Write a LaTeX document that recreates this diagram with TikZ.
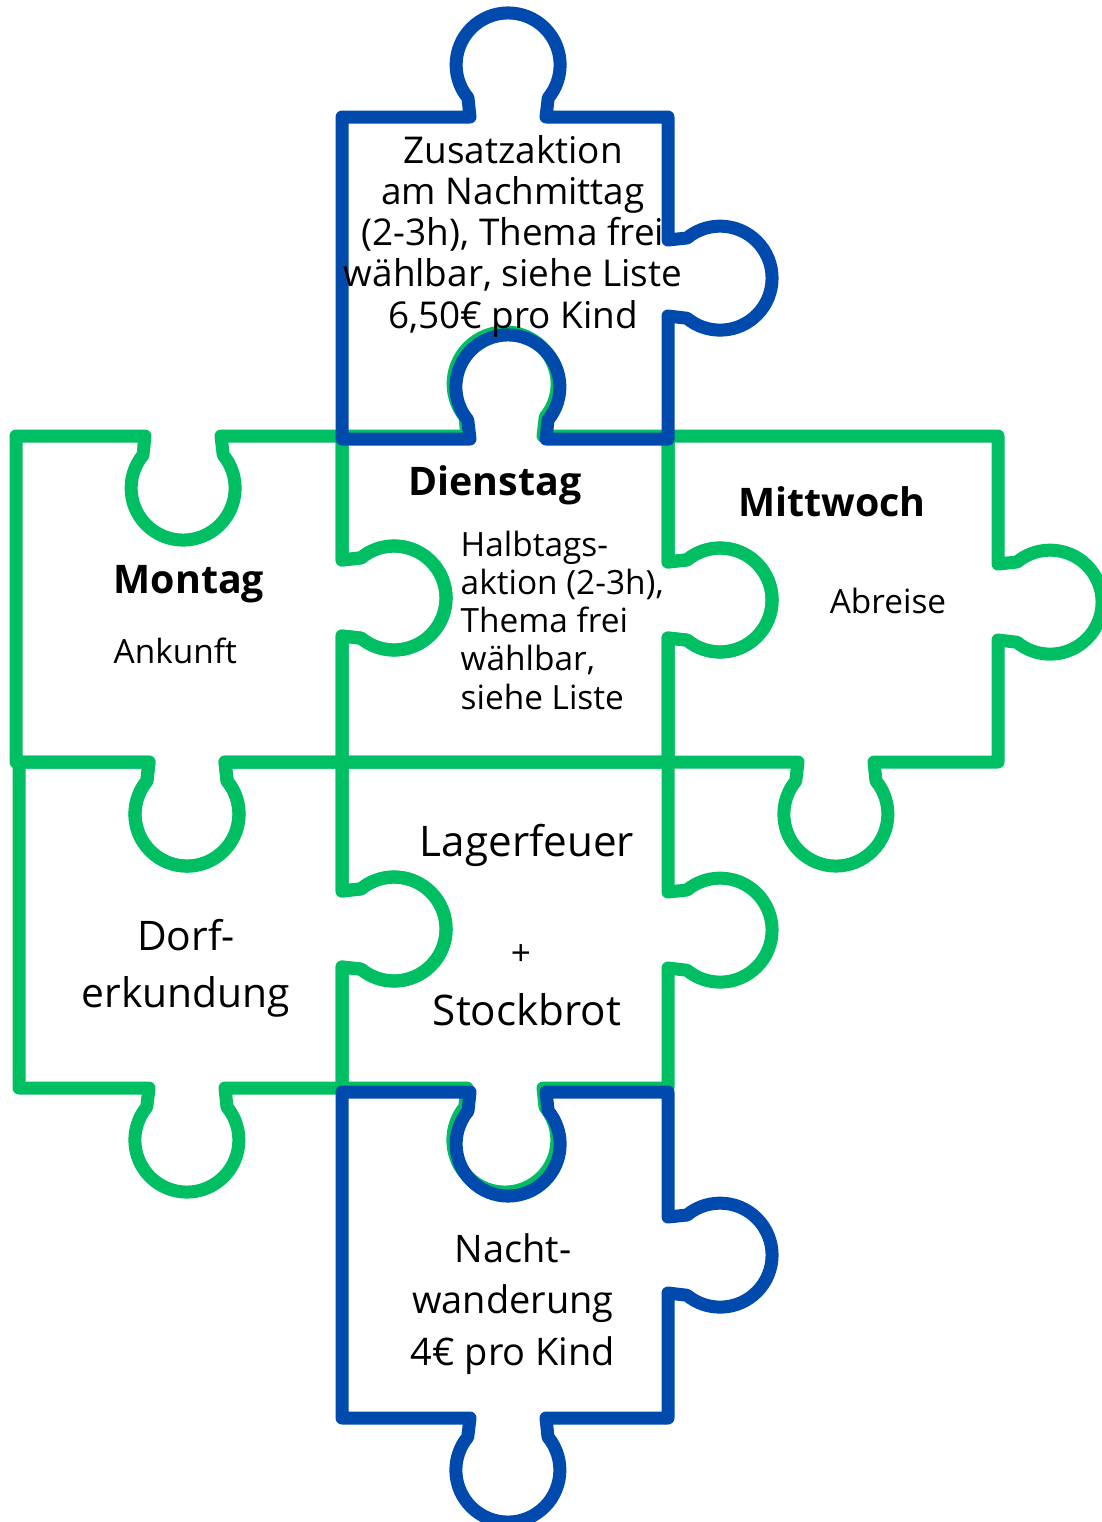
\documentclass[tikz,border=0pt]{standalone}
\usepackage{fontspec}
\setmainfont{Open Sans}
\definecolor{puzzlegreen}{HTML}{00BF63}
\definecolor{puzzleblue}{HTML}{004AAD}
\newcommand{\knob}[3]{{[shift={#1},rotate=#2,yscale=#3] -- (-38,0) -- (-40,19) arc[start angle=219.5,end angle=-39.5,radius=52] -- (38,0)}}

\begin{document}
\begin{tikzpicture}[x=0.1mm,y=-0.1mm,
    piece/.style={line width=1.3mm,line join=round,line cap=round},
    green piece/.style={piece,draw=puzzlegreen},
    blue piece/.style={piece,draw=puzzleblue},
    txt/.style={inner sep=0pt,anchor=base},
    daytext/.style={txt,font=\fontsize{11.2}{13}\selectfont\bfseries},
    smalltext/.style={txt,font=\fontsize{9.5}{11}\selectfont},
    bigtext/.style={txt,font=\fontsize{12}{14}\selectfont}]

  \useasboundingbox (0,0) rectangle (1102,1522);

  % green pieces
  \draw[green piece] (16,436) \knob{(183,436)}{0}{1} -- (342,436) \knob{(342,598)}{270}{-1} -- (342,762) \knob{(187,762)}{180}{-1} -- (16,762) -- cycle;
  \draw[green piece] (342,436) \knob{(505,436)}{0}{-1} -- (668,436) \knob{(668,600)}{270}{-1} -- (668,762) -- (342,762) \knob{(342,598)}{90}{1} -- cycle;
  \draw[green piece] (668,436) -- (998,436) \knob{(998,602)}{270}{-1} -- (998,762) \knob{(836,762)}{180}{-1} -- (668,762) \knob{(668,600)}{90}{1} -- cycle;
  \draw[green piece] (19,762) \knob{(187,762)}{0}{1} -- (342,762) \knob{(342,929)}{270}{-1} -- (342,1088) \knob{(187,1088)}{180}{-1} -- (19,1088) -- cycle;
  \draw[green piece] (342,762) -- (668,762) \knob{(668,930)}{270}{-1} -- (668,1088) \knob{(505,1088)}{180}{-1} -- (342,1088) \knob{(342,929)}{90}{1} -- cycle;

  % blue pieces
  \draw[blue piece] (342,117) \knob{(508,117)}{0}{-1} -- (668,117) \knob{(668,278)}{270}{-1} -- (668,439) \knob{(508,439)}{180}{1} -- (342,439) -- cycle;
  \draw[blue piece] (342,1092) \knob{(508,1092)}{0}{1} -- (668,1092) \knob{(668,1255)}{270}{-1} -- (668,1418) \knob{(508,1418)}{180}{-1} -- (342,1418) -- cycle;

  % texts
  \node[txt,anchor=center,align=center,font=\fontsize{10.5}{11.74}\selectfont] (zusatz) at (513,236) {Zusatzaktion\\am Nachmittag\\(2-3h), Thema frei\\wählbar, siehe Liste\\6,50€ pro Kind};
  \node[daytext,anchor=base west] (montag) at (113,593) {Montag};
  \node[smalltext,anchor=base west] (ankunft) at (113,663) {Ankunft};
  \node[daytext] (dienstag) at (495,495) {Dienstag};
  \node[smalltext,anchor=west,align=left,font=\fontsize{9.5}{10.88}\selectfont] (halbtags) at (460,620) {Halbtags-\\aktion (2-3h),\\Thema frei\\wählbar,\\siehe Liste};
  \node[daytext] (mittwoch) at (832,516) {Mittwoch};
  \node[smalltext] (abreise) at (888,613) {Abreise};
  \node[txt,anchor=center,align=center,font=\fontsize{11.6}{16.2}\selectfont] (dorf) at (186,968) {Dorf-\\erkundung};
  \node[bigtext] (lager) at (527,856) {Lagerfeuer};
  \node[txt,anchor=center,font=\fontsize{10}{12}\selectfont] (plus) at (521,955) {+};
  \node[bigtext] (stock) at (527,1025) {Stockbrot};
  \node[txt,anchor=center,align=center,font=\fontsize{10.8}{14.65}\selectfont] (nacht) at (513,1304) {Nacht-\\wanderung\\4€ pro Kind};
\end{tikzpicture}
\end{document}
